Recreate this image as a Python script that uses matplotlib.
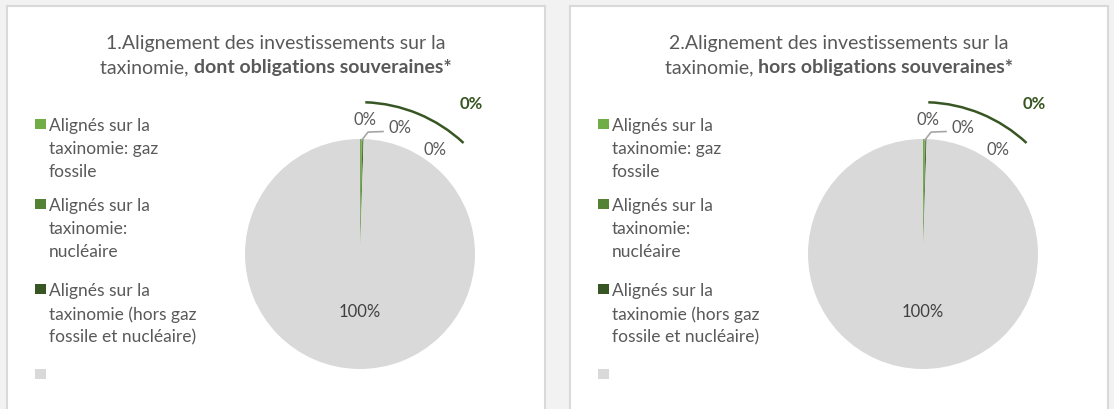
import matplotlib
matplotlib.use("Agg")
import matplotlib.pyplot as plt
from matplotlib.patches import Rectangle, Arc

plt.rcParams['font.family'] = ['Lato', 'DejaVu Sans']

W, H = 1114, 410

categories = ["Alignés sur la\ntaxinomie: gaz\nfossile",
              "Alignés sur la\ntaxinomie:\nnucléaire",
              "Alignés sur la\ntaxinomie (hors gaz\nfossile et nucléaire)",
              ""]
colors = ["#70AD47", "#548235", "#375623", "#D9D9D9"]
values_1 = [0.25, 0.1, 0.15, 99.5]
values_2 = [0.25, 0.1, 0.15, 99.5]
titles = [("1.Alignement des investissements sur la", "taxinomie, ", "dont obligations souveraines*"),
          ("2.Alignement des investissements sur la", "taxinomie, ", "hors obligations souveraines*")]

TFS = 14
LFS = 12.5
PFS = 12
TXT = "#595959"

fig = plt.figure(figsize=(W / 100, H / 100), dpi=100)
fig.patch.set_facecolor("#F2F2F2")


def fx(x):
    return x / W


def fy(y):
    return 1 - y / H


panel_x = [7, 570]
panel_w = 538
for p in range(2):
    x0 = panel_x[p]
    fig.add_artist(Rectangle((fx(x0), fy(H + 5)), panel_w / W, (H + 5 - 7) / H,
                             transform=fig.transFigure, facecolor="white",
                             edgecolor="#D9D9D9", linewidth=1.5, zorder=0))

fig.canvas.draw()
r = fig.canvas.get_renderer()

for p, vals in enumerate([values_1, values_2]):
    off = [0, 563][p]
    t1, t2a, t2b = titles[p]
    fig.text(fx(276 + off), fy(44), t1, ha="center", va="center", fontsize=TFS, color=TXT)
    ta = fig.text(0, 0, t2a, fontsize=TFS, color=TXT, va="center")
    tb = fig.text(0, 0, t2b, fontsize=TFS, color=TXT, fontweight="bold", va="center")
    wa = ta.get_window_extent(r).width
    wb = tb.get_window_extent(r).width
    xs = (276 + off) - (wa + wb) / 2
    ta.set_position((fx(xs), fy(68)))
    tb.set_position((fx(xs + wa), fy(68)))

    # legend
    starts = [125, 205, 290, 375]
    for i, (lab, col) in enumerate(zip(categories, colors)):
        y = starts[i]
        fig.add_artist(Rectangle((fx(35 + off), fy(y + 5)), 10.5 / W, 10.5 / H,
                                 transform=fig.transFigure, facecolor=col, edgecolor="none"))
        if lab:
            fig.text(fx(49 + off), fy(y - 7), lab, ha="left", va="top", fontsize=LFS,
                     color=TXT, linespacing=1.53)

    # pie
    cx, cy, R = 360 + off, 255, 115
    ax = fig.add_axes([fx(cx - R), fy(cy + R), 2 * R / W, 2 * R / H])
    ax.pie(vals, colors=colors, startangle=90, counterclock=False, radius=1,
           wedgeprops=dict(linewidth=0))
    ax.set_xlim(-1, 1)
    ax.set_ylim(-1, 1)
    ax.set_aspect("equal")
    ax.axis("off")
    labs = ["{:.0f}%".format(v) for v in vals]
    ax.text(0.04, 1.17, labs[0], ha="center", va="center", fontsize=PFS, color=TXT, clip_on=False)
    ax.text(0.35, 1.10, labs[1], ha="center", va="center", fontsize=PFS, color=TXT, clip_on=False)
    ax.plot([0.015, 0.07, 0.20], [0.99, 1.06, 1.065], color="#A6A6A6", lw=1.2, clip_on=False)
    ax.text(0.65, 0.91, labs[2], ha="center", va="center", fontsize=PFS, color=TXT, clip_on=False)
    ax.text(0.97, 1.31, labs[2], ha="center", va="center", fontsize=PFS, color="#375623",
            fontweight="bold", clip_on=False)
    ax.text(0, -0.5, labs[3], ha="center", va="center", fontsize=PFS, color="#404040", clip_on=False)
    ax.add_patch(Arc((0, 0), 2 * 1.32, 2 * 1.32, theta1=47, theta2=88, color="#375623",
                     lw=1.8, clip_on=False))

fig.savefig("out.png", dpi=100, facecolor=fig.get_facecolor())
